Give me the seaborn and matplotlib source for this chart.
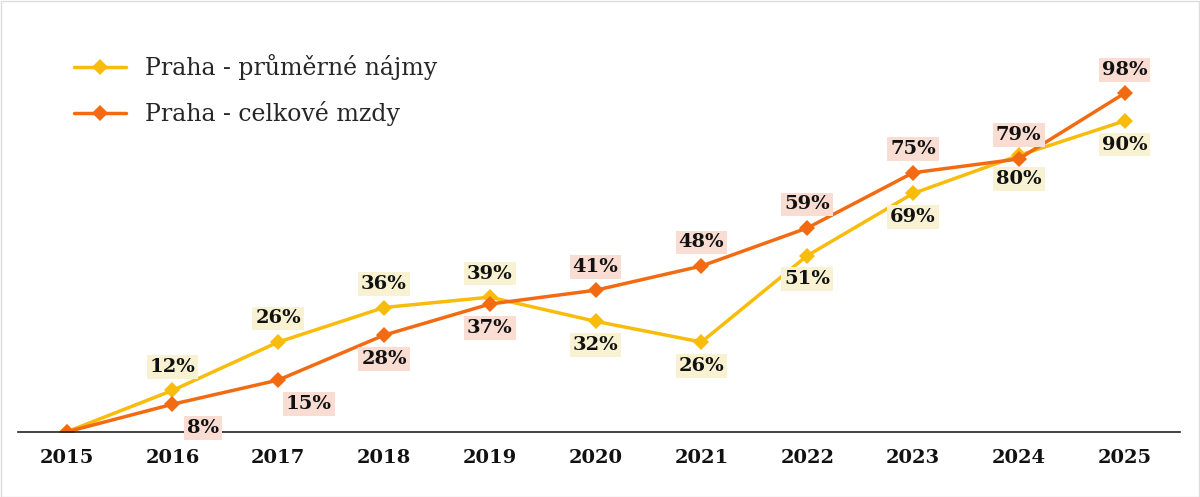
import numpy as np
import pandas as pd
import matplotlib
matplotlib.use("Agg")
import matplotlib.pyplot as plt
import seaborn as sns
from matplotlib.patches import Rectangle

years = [2015, 2016, 2017, 2018, 2019, 2020, 2021, 2022, 2023, 2024, 2025]
rents = [0, 12, 26, 36, 39, 32, 26, 51, 69, 80, 90]
wages = [0, 8, 15, 28, 37, 41, 48, 59, 75, 79, 98]
rent_label = "Praha - průměrné nájmy"
wage_label = "Praha - celkové mzdy"

sns.set_theme(style="white")
plt.rcParams['font.family'] = ['DejaVu Serif']

df = pd.DataFrame({"year": years * 2, "value": rents + wages,
                   "series": [rent_label] * len(years) + [wage_label] * len(years)})

fig = plt.figure(figsize=(12, 4.97), dpi=100)
ax = fig.add_axes([0.015, 0.131, 0.968, 0.73])
yellow, orange = "#f7bc0c", "#f26b12"
sns.lineplot(data=df, x="year", y="value", hue="series", palette=[yellow, orange],
             marker="D", markersize=8, markeredgewidth=0, linewidth=2.5, ax=ax)

ax.set_xlim(2014.54, 2025.52)
ax.set_ylim(0, 105)
ax.set_xticks(years)
ax.set_xticklabels([str(y) for y in years], fontsize=14, fontweight="bold", color="#111111")
ax.set_yticks([])
ax.set_xlabel("")
ax.set_ylabel("")
for s in ["top", "left", "right"]:
    ax.spines[s].set_visible(False)
ax.spines["bottom"].set_color("#222222")
ax.spines["bottom"].set_linewidth(1.2)
ax.tick_params(axis="x", length=0, pad=12)

def lab(x, v, above, fc, dx=0):
    off = 17 if above else -17
    ax.annotate(f"{v}%", (x, v), xytext=(dx, off), textcoords="offset points",
                ha="center", va="center", fontsize=14, fontweight="bold", color="#111111",
                bbox=dict(boxstyle="square,pad=0.15", fc=fc, ec="none"))

for i, y in enumerate(years[1:], start=1):
    lab(y, rents[i], i <= 4, "#f8f2d2")
    lab(y, wages[i], i > 4, "#f9ddd3", dx=22 if i <= 2 else 0)

ax.legend(loc="upper left", bbox_to_anchor=(0.03, 1.1), frameon=False,
          fontsize=17, handlelength=2.2, labelspacing=0.9, title=None)

fig.patches.append(Rectangle((0.001, 0.001), 0.998, 0.997, transform=fig.transFigure,
                             fill=False, ec="#dddddd", lw=1))
fig.savefig("out.png", dpi=100)
